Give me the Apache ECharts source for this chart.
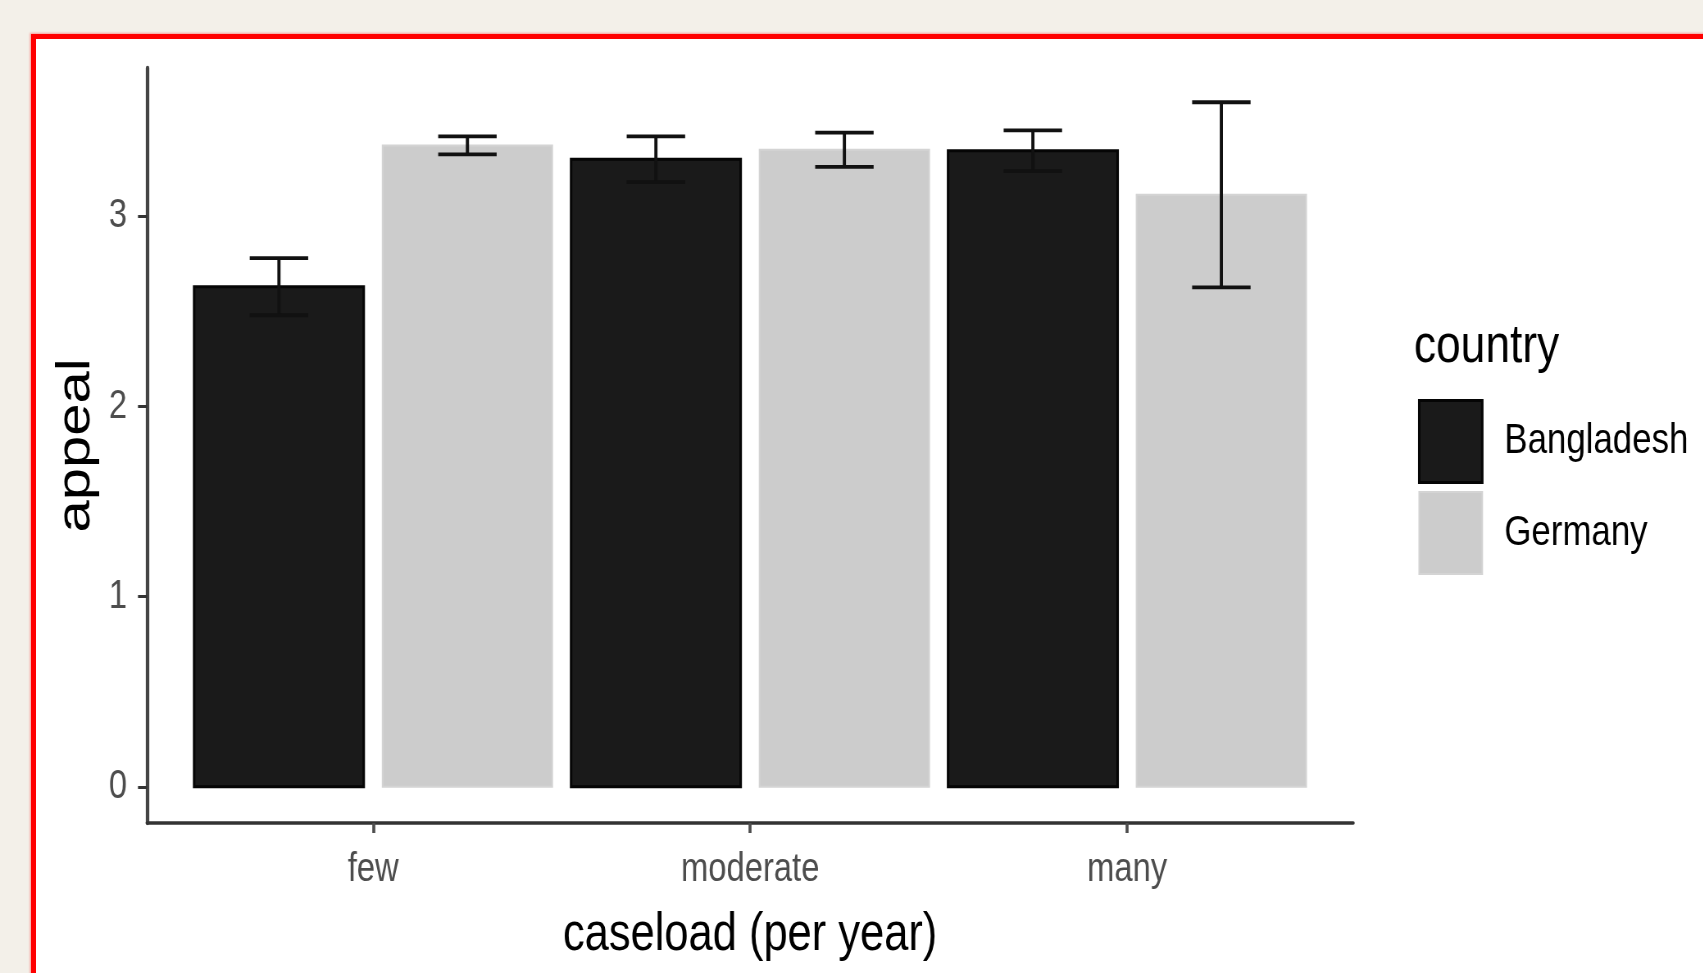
<!DOCTYPE html>
<html>
<head>
<meta charset="utf-8">
<title>appeal by caseload and country</title>
<script src="https://cdn.jsdelivr.net/npm/echarts@6/dist/echarts.min.js"></script>
<style>
  html, body { margin: 0; padding: 0; width: 1703px; height: 973px; overflow: hidden; background: #f3f0e9; }
  #frame { position: absolute; left: 31px; top: 34px; width: 1700px; height: 960px; background: #ffffff;
           border-left: 5px solid #ff0000; border-top: 5px solid #ff0000; box-shadow: -1px -1px 2px rgba(255,0,0,0.35); }
  #chart { position: absolute; left: 0; top: 0; height: 973px; transform-origin: 0 0; }
</style>
</head>
<body>
<div id="frame"></div>
<div id="chart"></div>
<script>
// caseload groups on the x axis
const categories = ['few', 'moderate', 'many'];
const countries = ['Bangladesh', 'Germany'];

// mean appeal and standard error per caseload group
const bangladeshMean = [2.63, 3.30, 3.345];
const bangladeshSE   = [0.15, 0.12, 0.107];
const germanyMean    = [3.373, 3.35, 3.113];
const germanySE      = [0.047, 0.09, 0.487];

// tick values
const yTicks = [0, 1, 2, 3];
const xTicks = [1, 2, 3];

// The chart is laid out on a wider canvas and squeezed horizontally,
// which gives the tall, condensed lettering of the original plot.
const SX = 1.22;
const W = 1703;
const chartEl = document.getElementById('chart');
chartEl.style.width = Math.round(W * SX) + 'px';
chartEl.style.transform = 'scaleX(' + (1 / SX) + ')';
const h = v => v * SX;   // horizontal page pixels -> canvas pixels

const font = "'Liberation Sans', Arial, sans-serif";

const BAR_WIDTH = 0.45;   // in category units
const DODGE = 0.25;       // offset of each country's bar from the group centre
const CAP_WIDTH = 0.155;  // error bar whisker width

function barRenderer(offset, fill, stroke, strokeWidth) {
  return function (params, api) {
    const i = api.value(0);
    const m = api.value(1);
    const se = api.value(2);
    const x = i + 1 + offset;
    const base = api.coord([x, 0]);
    const top = api.coord([x, m]);
    const hi = api.coord([x, m + se]);
    const lo = api.coord([x, m - se]);
    const bw = api.size([BAR_WIDTH, 0])[0];
    const cw = api.size([CAP_WIDTH, 0])[0];
    const capStyle = { stroke: '#111111', lineWidth: 3.8 };
    const stemStyle = { stroke: '#111111', lineWidth: h(3.2) };
    return {
      type: 'group',
      children: [
        { type: 'rect',
          shape: { x: base[0] - bw / 2, y: top[1], width: bw, height: base[1] - top[1] },
          style: { fill: fill, stroke: stroke, lineWidth: strokeWidth } },
        { type: 'line', shape: { x1: hi[0], y1: hi[1], x2: lo[0], y2: lo[1] }, style: stemStyle },
        { type: 'line', shape: { x1: hi[0] - cw / 2, y1: hi[1], x2: hi[0] + cw / 2, y2: hi[1] }, style: capStyle },
        { type: 'line', shape: { x1: lo[0] - cw / 2, y1: lo[1], x2: lo[0] + cw / 2, y2: lo[1] }, style: capStyle }
      ]
    };
  };
}

const bangladeshData = categories.map((c, i) => [i, bangladeshMean[i], bangladeshSE[i]]);
const germanyData = categories.map((c, i) => [i, germanyMean[i], germanySE[i]]);

const chart = echarts.init(chartEl);
chart.setOption({
  backgroundColor: 'transparent',
  animation: false,
  grid: { left: h(147), right: h(350), top: 68, bottom: 150 },
  title: {
    text: 'country', left: h(1414), top: 320, padding: 0,
    textStyle: { fontFamily: font, fontSize: 54, fontWeight: 'normal', color: '#000000' }
  },
  legend: {
    orient: 'vertical', left: h(1418), top: 399, padding: 0,
    itemWidth: h(63), itemHeight: 82, itemGap: 7, icon: 'rect',
    textStyle: { fontFamily: font, fontSize: 42.5, color: '#000000', padding: [8, 0, 0, h(18)] },
    data: [
      { name: countries[0], itemStyle: { color: '#1a1a1a', borderColor: '#050505', borderWidth: 3 } },
      { name: countries[1], itemStyle: { color: '#cccccc', borderColor: '#d4d4d4', borderWidth: 2 } }
    ]
  },
  xAxis: {
    type: 'value', min: 0.4, max: 3.6,
    name: 'caseload (per year)', nameLocation: 'middle', nameGap: 86,
    nameTextStyle: { fontFamily: font, fontSize: 53, color: '#000000' },
    axisLine: { show: true, onZero: false, lineStyle: { color: '#333333', width: 3.5 } },
    axisTick: { show: true, customValues: xTicks, length: 10, lineStyle: { color: '#4d4d4d', width: h(3) } },
    axisLabel: {
      customValues: xTicks, margin: 27, fontFamily: font, fontSize: 40, color: '#4d4d4d',
      formatter: v => categories[Math.round(v) - 1]
    },
    splitLine: { show: false }
  },
  yAxis: {
    type: 'value', min: -0.19, max: 3.78,
    name: 'appeal', nameLocation: 'middle', nameGap: h(31),
    nameTextStyle: { fontFamily: font, fontSize: 58, color: '#000000' },
    axisLine: { show: true, onZero: false, lineStyle: { color: '#444444', width: h(3.5) } },
    axisTick: { show: true, customValues: yTicks, length: h(9), lineStyle: { color: '#333333', width: 3 } },
    axisLabel: { customValues: yTicks, margin: h(20), fontFamily: font, fontSize: 40, color: '#4d4d4d' },
    splitLine: { show: false }
  },
  series: [
    {
      name: countries[0], type: 'custom', clip: false,
      itemStyle: { color: '#1a1a1a' },
      encode: { x: 0, y: 1 },
      renderItem: barRenderer(-DODGE, '#1a1a1a', '#050505', 3),
      data: bangladeshData
    },
    {
      name: countries[1], type: 'custom', clip: false,
      itemStyle: { color: '#cccccc' },
      encode: { x: 0, y: 1 },
      renderItem: barRenderer(DODGE, '#cccccc', '#d4d4d4', 2),
      data: germanyData
    }
  ]
});
</script>
</body>
</html>
